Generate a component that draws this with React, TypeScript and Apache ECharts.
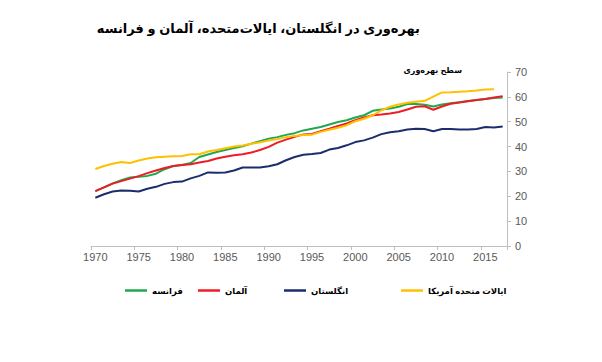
import React, { useEffect, useRef } from "react";
import * as echarts from "echarts";

const years: string[] = [];
for (let y = 1970; y <= 2017; y++) years.push(String(y));

const titleText = "بهره‌وری در انگلستان، ایالات‌متحده، آلمان و فرانسه";
const yAxisTitle = "سطح بهره‌وری";

const nameFrance = "فرانسه";
const nameGermany = "آلمان";
const nameUK = "انگلستان";
const nameUS = "ایالات متحده آمریکا";

const usValues: (number | null)[] = [
  31.0, 32.2, 33.1, 33.8, 33.4, 34.4, 35.2, 35.7, 35.9, 36.1,
  36.2, 36.9, 36.9, 38.0, 38.6, 39.3, 40.0, 40.4, 41.1, 41.7,
  42.4, 43.0, 43.8, 44.3, 44.7, 44.8, 45.9, 46.8, 47.6, 48.6,
  50.2, 51.2, 52.6, 54.6, 56.0, 56.9, 57.6, 58.0, 58.4, 60.1,
  61.8, 61.9, 62.1, 62.3, 62.6, 63.0, 63.1, null,
];

const franceValues: number[] = [
  22.1, 23.6, 25.2, 26.5, 27.6, 27.9, 28.2, 29.1, 30.9, 32.2,
  32.6, 33.4, 35.8, 36.8, 37.8, 38.6, 39.4, 40.1, 41.2, 42.2,
  43.2, 43.8, 44.7, 45.4, 46.5, 47.2, 47.9, 48.9, 49.9, 50.6,
  51.7, 52.6, 54.4, 54.9, 55.3, 56.0, 57.1, 57.1, 56.8, 56.1,
  56.9, 57.4, 57.8, 58.3, 58.7, 59.1, 59.5, 59.7,
];

const germanyValues: number[] = [
  22.1, 23.6, 25.1, 26.1, 27.1, 28.1, 29.3, 30.4, 31.4, 32.2,
  32.6, 32.9, 33.6, 34.2, 35.2, 35.9, 36.5, 36.9, 37.6, 38.6,
  39.9, 41.6, 42.8, 43.9, 44.9, 45.1, 46.2, 47.2, 48.3, 49.3,
  50.6, 51.7, 52.6, 52.9, 53.3, 53.9, 54.9, 56.0, 56.2, 54.8,
  56.1, 57.2, 57.7, 58.2, 58.7, 59.1, 59.7, 60.3,
];

const ukValues: number[] = [
  19.4, 20.8, 21.9, 22.3, 22.2, 21.9, 23.0, 23.8, 25.0, 25.7,
  25.9, 27.2, 28.2, 29.6, 29.5, 29.6, 30.4, 31.6, 31.6, 31.6,
  32.1, 32.9, 34.5, 35.8, 36.7, 37.0, 37.4, 38.8, 39.4, 40.5,
  41.8, 42.5, 43.6, 45.0, 45.8, 46.2, 46.9, 47.2, 47.1, 46.2,
  47.1, 47.1, 46.9, 46.9, 47.1, 47.9, 47.7, 48.1,
];

const colFrance = "#1FA84F";
const colGermany = "#EE1C25";
const colUK = "#1B2D6B";
const colUS = "#FFC000";

const FONT = "Arial, 'Liberation Sans', 'DejaVu Sans', sans-serif";

export default function App() {
  const ref = useRef<HTMLDivElement>(null);
  useEffect(() => {
    if (!ref.current) return;
    const chart = echarts.init(ref.current, undefined, { renderer: "svg" });
    const legendBase = (name: string, left: number, top: number) => ({
      data: [name],
      left,
      top,
      padding: 0,
      icon: "rect",
      itemWidth: 22,
      itemHeight: 2.5,
      itemGap: 6,
      selectedMode: false,
      textStyle: { fontFamily: FONT, fontSize: 8.5, fontWeight: "bold", color: "#000" },
    });
    const line = (name: string, data: (number | null)[], color: string, z: number) => ({
      name,
      type: "line",
      data,
      symbol: "none",
      showSymbol: false,
      z,
      lineStyle: { color, width: 2 },
      itemStyle: { color },
    });
    chart.setOption({
      animation: false,
      backgroundColor: "#ffffff",
      grid: { left: 91, right: 95, top: 72, bottom: 116, containLabel: false },
      graphic: [
        {
          type: "text",
          x: 420,
          y: 28,
          style: {
            text: titleText,
            align: "right",
            verticalAlign: "middle",
            fontFamily: FONT,
            fontSize: 13,
            fontWeight: "bold",
            fill: "#000",
          },
        },
        {
          type: "text",
          x: 462,
          y: 70,
          style: {
            text: yAxisTitle,
            align: "right",
            verticalAlign: "middle",
            fontFamily: FONT,
            fontSize: 8,
            fontWeight: "bold",
            fill: "#000",
          },
        },
      ],
      legend: [
        legendBase(nameFrance, 125, 286),
        legendBase(nameGermany, 198, 286),
        legendBase(nameUK, 284, 286),
        legendBase(nameUS, 401, 286),
      ],
      xAxis: {
        type: "category",
        data: years,
        boundaryGap: true,
        axisLine: { show: true, lineStyle: { color: "#BFBFBF", width: 1 } },
        axisTick: { show: true, interval: 4, length: 4, lineStyle: { color: "#BFBFBF" } },
        axisLabel: {
          interval: 4,
          color: "#595959",
          fontFamily: FONT,
          fontSize: 11,
          margin: 5,
        },
        splitLine: { show: false },
      },
      yAxis: {
        type: "value",
        position: "right",
        min: 0,
        max: 70,
        interval: 10,
        axisLine: { show: true, lineStyle: { color: "#BFBFBF", width: 1 } },
        axisTick: { show: true, length: 4, lineStyle: { color: "#BFBFBF" } },
        axisLabel: { color: "#595959", fontFamily: FONT, fontSize: 11, margin: 8 },
        splitLine: { show: false },
      },
      series: [
        line(nameUK, ukValues, colUK, 2),
        line(nameFrance, franceValues, colFrance, 3),
        line(nameGermany, germanyValues, colGermany, 4),
        line(nameUS, usValues, colUS, 5),
      ],
    });
    return () => chart.dispose();
  }, []);
  return (
    <div
      ref={ref}
      style={{ position: "absolute", left: 0, top: 0, width: 602, height: 362 }}
    />
  );
}
